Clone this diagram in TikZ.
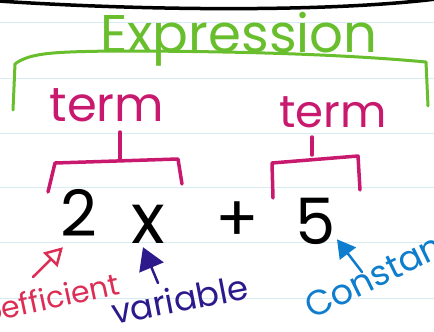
\documentclass[tikz,border=0pt]{standalone}
\usepackage{fontspec}
\setmainfont{Poppins}
\usetikzlibrary{arrows.meta}

\definecolor{exprgreen}{RGB}{105,190,45}
\definecolor{termpink}{RGB}{200,25,110}
\definecolor{coefred}{RGB}{220,45,85}
\definecolor{varblue}{RGB}{45,25,140}
\definecolor{constblue}{RGB}{15,125,205}
\definecolor{paperline}{RGB}{215,235,242}

\begin{document}
\begin{tikzpicture}[x=1pt,y=-1pt,line cap=round,line join=round,
    hand/.style={font=\fontsize{#1}{#1}\selectfont,inner sep=0pt},
    termline/.style={termpink,line width=3.5pt},
    pointer/.style={line width=2.5pt}]
  \useasboundingbox (0,0) rectangle (434,332);
  \clip (0,0) rectangle (434,332);

  \foreach \y in {22,78,133,187,242,298}
    \draw[paperline,line width=1pt] (0,\y) -- (434,\y);
  \draw[line width=3.5pt] (-2,1) .. controls (150,11) and (330,12) .. (436,-1);

  \node[hand=53,text=exprgreen,anchor=base] (expr) at (239,52) {Expression};
  \draw[exprgreen,line width=3pt] (13,110) -- (15,64)
    .. controls (30,52) and (60,52) .. (110,51)
    .. controls (250,51) and (350,55) .. (426,62) -- (428,106);

  \node[hand=48,text=termpink,anchor=base] (termA) at (107,121) {term};
  \node[hand=45,text=termpink,anchor=base] (termB) at (333,127) {term};
  \draw[termline] (120,132) -- (120,160);
  \draw[termline] (48,192) -- (55,163) -- (178,159) -- (182,184);
  \draw[termline] (312,137) -- (312,155);
  \draw[termline] (273,198) -- (272,163) -- (358,156) -- (360,190);

  \node[hand=64,anchor=base] (two) at (79,236) {2};
  \node[hand=70,anchor=base] (var) at (148,243) {x};
  \node[hand=64,anchor=base] (plus) at (237,241) {+};
  \node[hand=64,anchor=base] (five) at (316,244) {5};

  \node[hand=30,text=coefred,rotate=12,anchor=base west] (coef) at (-33,327) {coefficient};
  \node[hand=34,text=varblue,rotate=11,anchor=base west] (varlab) at (114,325) {variable};
  \node[hand=35,text=constblue,rotate=26,anchor=base west] (constlab) at (312,320) {Constant};

  \coordinate (coeftail) at (33,277);
  \coordinate (vartail) at (158,283);
  \coordinate (consttail) at (362,272);
  \draw[pointer,coefred,-{Triangle[open,length=18pt,width=20pt]}]
    (coeftail) -- ([shift={(-16,11)}]two.south);
  \draw[pointer,varblue,-{Triangle[length=22pt,width=26pt]}]
    (vartail) -- ([shift={(-5,4)}]var.south);
  \draw[pointer,constblue,-{Triangle[length=18pt,width=20pt]}]
    (consttail) -- ([shift={(21,-5)}]five.south);
\end{tikzpicture}
\end{document}
